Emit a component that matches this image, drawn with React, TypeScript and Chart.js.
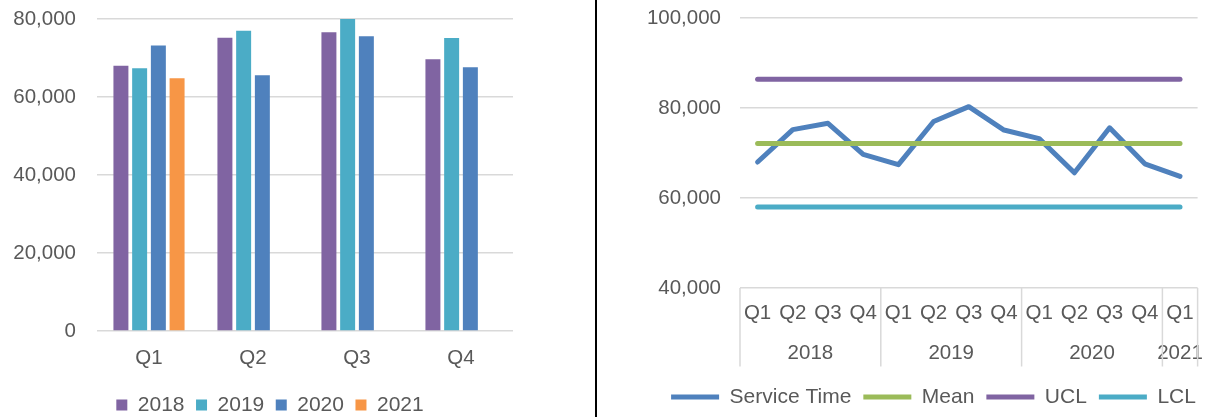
import React, { useEffect, useRef } from "react";
import { Chart, registerables } from "chart.js";

Chart.register(...registerables);

// ---- Data ----
const quarters = ["Q1", "Q2", "Q3", "Q4"];
const series2018 = [68000, 75200, 76600, 69700];
const series2019 = [67400, 77000, 80300, 75100];
const series2020 = [73200, 65600, 75600, 67600];
const series2021 = [64800, null, null, null];

const timeQuarters = ["Q1", "Q2", "Q3", "Q4", "Q1", "Q2", "Q3", "Q4", "Q1", "Q2", "Q3", "Q4", "Q1"];
const yearLabels = ["2018", "2019", "2020", "2021"];
const yearCounts = [4, 4, 4, 1];
const serviceTime = [68000, 75200, 76600, 69700, 67400, 77000, 80300, 75100, 73200, 65600, 75600, 67600, 64800];
const meanLine = [72100, 72100, 72100, 72100, 72100, 72100, 72100, 72100, 72100, 72100, 72100, 72100, 72100];
const uclLine = [86400, 86400, 86400, 86400, 86400, 86400, 86400, 86400, 86400, 86400, 86400, 86400, 86400];
const lclLine = [58000, 58000, 58000, 58000, 58000, 58000, 58000, 58000, 58000, 58000, 58000, 58000, 58000];

const barTicks = [0, 20000, 40000, 60000, 80000];
const lineTicks = [40000, 60000, 80000, 100000];

// ---- Styling ----
const FAMILY = "'Liberation Sans', Arial, sans-serif";
const TEXT = "#595959";
const GRID = "#d9d9d9";
const tickFont = { family: FAMILY, size: 20.5 };
const legendFont = { family: FAMILY, size: 21 };
const fmt = (v: number) => Number(v).toLocaleString("en-US");

// year group centers / boundaries derived from the counts
const yearCenters: number[] = [];
const yearBoundaries: number[] = [-0.5];
{
  let start = 0;
  yearCounts.forEach((n) => {
    yearCenters.push(start + (n - 1) / 2);
    start += n;
    yearBoundaries.push(start - 0.5);
  });
}

const yearSeparators = {
  id: "yearSeparators",
  afterDraw(chart: any) {
    const s = chart.scales.x2;
    const ctx = chart.ctx;
    const top = chart.chartArea.bottom;
    const bottom = s.bottom - 8;
    ctx.save();
    ctx.strokeStyle = GRID;
    ctx.lineWidth = 1.5;
    yearBoundaries.forEach((b) => {
      const px = s.getPixelForValue(b);
      ctx.beginPath();
      ctx.moveTo(px, top);
      ctx.lineTo(px, bottom);
      ctx.stroke();
    });
    ctx.restore();
  },
};

// invisible spacer axis (keeps the legend centred like the original)
const spacerAxis = (w: number) => ({
  type: "linear",
  position: "right",
  display: true,
  grid: { display: false, drawTicks: false },
  border: { display: false },
  ticks: { display: false },
  afterFit: (s: any) => {
    s.width = w;
    s.paddingTop = 0;
    s.paddingBottom = 0;
  },
});

function BarChart() {
  const ref = useRef<HTMLCanvasElement>(null);
  useEffect(() => {
    const chart = new Chart(ref.current as HTMLCanvasElement, {
      type: "bar",
      data: {
        labels: quarters,
        datasets: [
          { label: "2018", data: series2018, backgroundColor: "#8064A2" },
          { label: "2019", data: series2019, backgroundColor: "#4BACC6" },
          { label: "2020", data: series2020, backgroundColor: "#4F81BD" },
          { label: "2021", data: series2021 as any, backgroundColor: "#F79646" },
        ],
      },
      options: {
        animation: false,
        responsive: false,
        layout: { padding: { left: 0, right: 55, top: 19, bottom: 0.5 } },
        datasets: { bar: { categoryPercentage: 0.72, barPercentage: 0.8 } } as any,
        plugins: {
          legend: {
            position: "bottom",
            labels: {
              font: legendFont,
              color: TEXT,
              boxWidth: 11,
              boxHeight: 11,
              padding: 11.5,
            },
          },
          tooltip: { enabled: false },
        },
        scales: {
          x: {
            grid: { display: false, drawTicks: false },
            border: { display: false },
            ticks: { font: tickFont, color: TEXT, padding: 15, maxRotation: 0 },
            afterFit: (s: any) => {
              s.height = 52;
              s.paddingLeft = 0;
              s.paddingRight = 0;
            },
          },
          y: {
            min: barTicks[0],
            max: barTicks[barTicks.length - 1],
            afterBuildTicks: (s: any) => {
              s.ticks = barTicks.map((v) => ({ value: v }));
            },
            ticks: { font: tickFont, color: TEXT, padding: 21, callback: (v: any) => fmt(v) },
            grid: { color: GRID, lineWidth: 1.5, drawTicks: false },
            border: { display: false },
            afterFit: (s: any) => {
              s.width = 97;
              s.paddingTop = 0;
              s.paddingBottom = 0;
            },
          },
          ySpacer: spacerAxis(27),
        } as any,
      },
    });
    return () => chart.destroy();
  }, []);
  return <canvas ref={ref} width={595} height={426} style={{ display: "block" }} />;
}

function ControlChart() {
  const ref = useRef<HTMLCanvasElement>(null);
  useEffect(() => {
    const lineStyle = {
      borderWidth: 5,
      pointRadius: 0,
      pointHoverRadius: 0,
      tension: 0,
      fill: false,
      borderCapStyle: "round",
      borderJoinStyle: "round",
      xAxisID: "x",
      yAxisID: "y",
    };
    const chart = new Chart(ref.current as HTMLCanvasElement, {
      type: "line",
      data: {
        labels: timeQuarters,
        datasets: [
          { ...lineStyle, label: "Service Time", data: serviceTime, borderColor: "#4F81BD", backgroundColor: "#4F81BD", order: 4 } as any,
          { ...lineStyle, label: "Mean", data: meanLine, borderColor: "#9BBB59", backgroundColor: "#9BBB59", order: 3 } as any,
          { ...lineStyle, label: "UCL", data: uclLine, borderColor: "#8064A2", backgroundColor: "#8064A2", order: 2 } as any,
          { ...lineStyle, label: "LCL", data: lclLine, borderColor: "#4BACC6", backgroundColor: "#4BACC6", order: 1 } as any,
        ],
      },
      options: {
        animation: false,
        responsive: false,
        layout: { padding: { left: 0, right: 0, top: 18, bottom: 0.5 } },
        plugins: {
          legend: {
            position: "bottom",
            labels: {
              font: legendFont,
              color: TEXT,
              usePointStyle: true,
              pointStyle: "line",
              pointStyleWidth: 48,
              padding: 12,
              sort: (a: any, b: any) => a.datasetIndex - b.datasetIndex,
            },
          },
          tooltip: { enabled: false },
        },
        scales: {
          x: {
            type: "category",
            position: "bottom",
            offset: true,
            weight: 0,
            grid: { display: false, drawTicks: false },
            border: { display: false },
            ticks: { font: tickFont, color: TEXT, padding: 12.7, autoSkip: false, maxRotation: 0 },
            afterFit: (s: any) => {
              s.height = 45;
              s.paddingLeft = 0;
              s.paddingRight = 0;
            },
          },
          x2: {
            type: "linear",
            position: "bottom",
            weight: 1,
            min: -0.5,
            max: timeQuarters.length - 0.5,
            grid: { display: false, drawTicks: false },
            border: { display: false },
            afterBuildTicks: (s: any) => {
              s.ticks = yearCenters.map((v) => ({ value: v }));
            },
            ticks: {
              font: tickFont,
              color: TEXT,
              padding: 8,
              autoSkip: false,
              maxRotation: 0,
              callback: (_v: any, i: number) => yearLabels[i],
            },
            afterFit: (s: any) => {
              s.height = 41.5;
              s.paddingLeft = 0;
              s.paddingRight = 0;
            },
          },
          y: {
            min: lineTicks[0],
            max: lineTicks[lineTicks.length - 1],
            afterBuildTicks: (s: any) => {
              s.ticks = lineTicks.map((v) => ({ value: v }));
            },
            ticks: { font: tickFont, color: TEXT, padding: 19, callback: (v: any) => fmt(v) },
            grid: { color: GRID, lineWidth: 1.5, drawTicks: false },
            border: { display: false },
            afterFit: (s: any) => {
              s.width = 143;
              s.paddingTop = 0;
              s.paddingBottom = 0;
            },
          },
          ySpacer: spacerAxis(72.4),
        } as any,
      },
      plugins: [yearSeparators],
    });
    return () => chart.destroy();
  }, []);
  return <canvas ref={ref} width={673} height={418} style={{ display: "block" }} />;
}

export default function App() {
  return (
    <div
      style={{
        position: "fixed",
        left: 0,
        top: 0,
        width: 1206,
        height: 417,
        overflow: "hidden",
        background: "#ffffff",
      }}
    >
      <div style={{ position: "absolute", left: 0, top: 0, width: 595, height: 426 }}>
        <BarChart />
      </div>
      <div style={{ position: "absolute", left: 597, top: 0, width: 673, height: 418 }}>
        <ControlChart />
      </div>
      <div style={{ position: "absolute", left: 595, top: 0, width: 2, height: 417, background: "#000000" }} />
    </div>
  );
}
